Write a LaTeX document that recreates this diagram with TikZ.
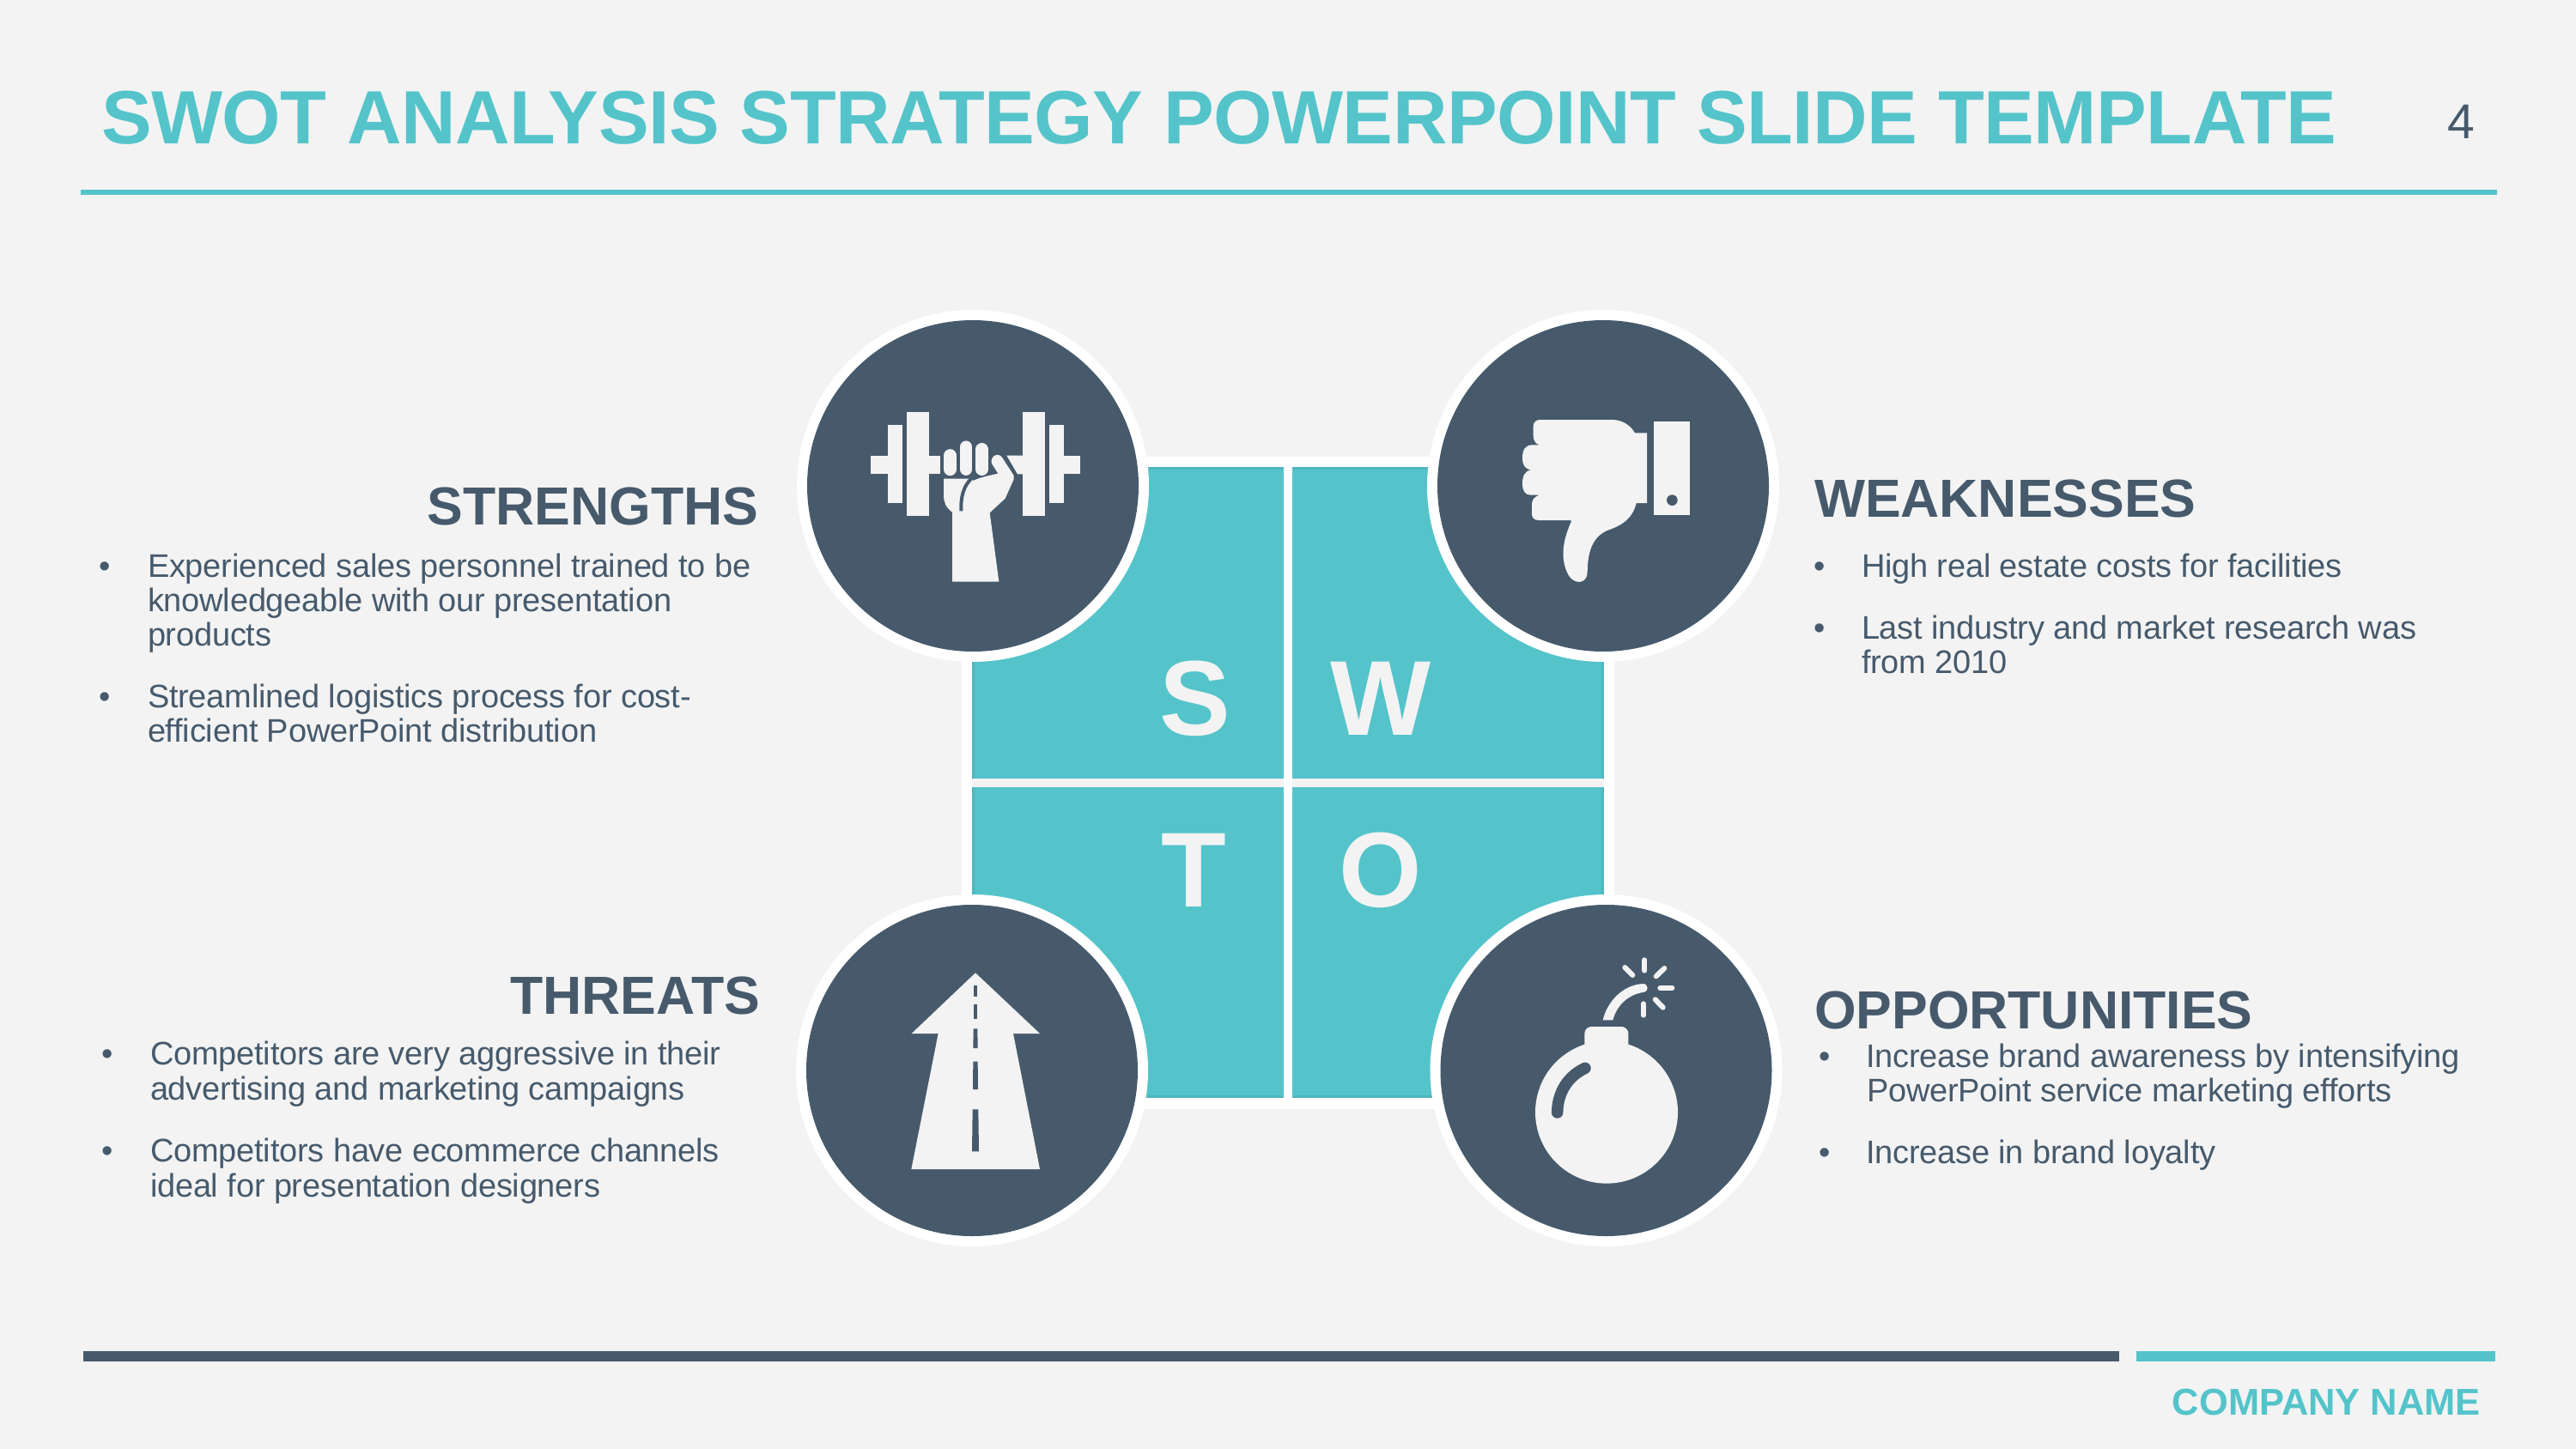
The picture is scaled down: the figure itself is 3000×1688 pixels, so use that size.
\documentclass[tikz,border=0pt]{standalone}
\usepackage{fontspec}
\setmainfont{Liberation Sans}
\newfontfamily\titlefam[LetterSpace=-0.55]{Liberation Sans}
\newfontfamily\bodyfam[LetterSpace=-0.55]{Liberation Sans}
\definecolor{bgc}{HTML}{F3F3F3}
\definecolor{tealc}{HTML}{54C4CA}
\definecolor{tealedge}{HTML}{4EB6BC}
\definecolor{navy}{HTML}{465A6C}
\definecolor{iconc}{HTML}{F3F3F3}
\tikzset{
  txt/.style={inner sep=0pt,outer sep=0pt,anchor=base west},
  bodytext/.style={txt,text=navy,font=\bodyfam\fontsize{38}{40}\selectfont},
  bullettext/.style={inner sep=0pt,outer sep=0pt,anchor=base,text=navy,font=\fontsize{38}{40}\selectfont},
  headtext/.style={inner sep=0pt,outer sep=0pt,text=navy,font=\fontsize{62.5}{66}\bfseries\selectfont},
  lettertext/.style={inner sep=0pt,outer sep=0pt,anchor=base,text=iconc,font=\fontsize{124}{126}\bfseries\selectfont},
  ring/.style={circle,fill=white,inner sep=0pt,minimum size=410pt},
  disc/.style={circle,fill=navy,inner sep=0pt,minimum size=386pt},
  icon/.style={fill=iconc,draw=none},
  iconcut/.style={fill=navy,draw=none},
  spark/.style={draw=iconc,line width=6,line cap=round},
  finger/.style={draw=iconc,line cap=round},
}
\newcommand{\zoomscope}[2]{\begin{scope}[shift={(#1,#2)},x=0.33333pt,y=-0.33333pt]}
\begin{document}
\begin{tikzpicture}[x=1pt,y=-1pt]
\path[use as bounding box,fill=bgc] (0,0) rectangle (3000,1688);
% header
\node[txt,text=tealc,font=\titlefam\fontsize{88}{90}\bfseries\selectfont] (title) at (118,168) {SWOT ANALYSIS STRATEGY POWERPOINT SLIDE TEMPLATE};
\node[bullettext,font=\fontsize{57}{60}\selectfont] (pagenum) at (2866,162) {4};
\fill[tealc] (94,221) rectangle (2908,227);
% footer
\fill[navy] (97,1574) rectangle (2468,1586);
\fill[tealc] (2488,1574) rectangle (2906,1586);
\node[inner sep=0pt,outer sep=0pt,anchor=base east,text=tealc,font=\fontsize{43.5}{46}\bfseries\selectfont] (company) at (2889,1648) {COMPANY NAME};
% central square
\fill[white] (1120,532) rectangle (1880,1292);
\fill[tealc] (1132,544) rectangle (1868,1279);
\draw[tealedge,line width=3] (1133.5,545.5) rectangle (1866.5,1277.5);
\fill[bgc] (1132,907) rectangle (1868,917);
\fill[white] (1495,544) rectangle (1505,1279);
\node[lettertext] (ls) at (1392,856) {S};
\node[lettertext] (lw) at (1608,856) {W};
\node[lettertext] (lt) at (1390,1056) {T};
\node[lettertext] (lo) at (1608,1056) {O};
% circles
\node[ring] (rs) at (1133,566) {};
\node[disc] (ds) at (1133,566) {};
\node[ring] (rw) at (1867,566) {};
\node[disc] (dw) at (1867,566) {};
\node[ring] (rt) at (1132,1247) {};
\node[disc] (dt) at (1132,1247) {};
\node[ring] (ro) at (1870.5,1247) {};
\node[disc] (do) at (1870.5,1247) {};
% barbell + fist
\zoomscope{920}{350}
\fill[icon] (342,435) rectangle (393,708);
\fill[icon] (408,390) rectangle (486,752);
\fill[icon] (282,542) rectangle (342,607);
\fill[icon] (486,542) rectangle (525,607);
\fill[icon] (813,390) rectangle (891,752);
\fill[icon] (906,435) rectangle (956,708);
\fill[icon] (956,542) rectangle (1014,607);
\fill[icon] (757,542) -- (813,542) -- (813,607) -- (795,607) -- cycle;
\draw[finger,line width=15] (559.5,542) -- (559.5,590);
\draw[finger,line width=14.4] (615.5,512) -- (615.5,590);
\draw[finger,line width=14.7] (670,520) -- (670,590);
\fill[icon] (537,623) -- (635,623) -- (640,630)
  .. controls (665,618) and (695,612) .. (727,605)
  -- (706,572) .. controls (695,550) and (725,525) .. (742,550)
  -- (782,612) -- (782,625) -- (752,692) -- (698,742) -- (730,983) -- (567,983) -- (567,740)
  .. controls (545,725) and (537,705) .. (537,680) -- cycle;
\draw[navy,line width=4] (634,622) .. controls (605,650) and (596,690) .. (598,736);
\end{scope}
% thumb down
\zoomscope{1650}{350}
\fill[icon] (829,424) rectangle (954,749);
\fill[iconcut] (892,698) circle[radius=19];
\fill[icon] (804,463) -- (804,708) -- (767,708)
  .. controls (752,770) and (705,790) .. (665,804)
  .. controls (612,828) and (597,880) .. (596,950)
  .. controls (596,992) and (545,998) .. (525,950)
  .. controls (505,905) and (505,850) .. (540,772)
  -- (537,768) -- (425,768)
  .. controls (408,768) and (402,758) .. (402,745)
  -- (402,712) .. controls (402,697) and (412,685) .. (428,680)
  -- (398,680) .. controls (378,680) and (369,665) .. (369,640)
  .. controls (369,612) and (378,596) .. (400,592)
  .. controls (378,590) and (369,575) .. (369,550)
  .. controls (369,520) and (380,505) .. (405,505)
  -- (428,505) .. controls (414,500) and (407,490) .. (407,470)
  -- (407,440) .. controls (407,425) and (417,417) .. (432,417)
  -- (680,417) .. controls (718,417) and (745,435) .. (762,463) -- cycle;
\end{scope}
% road arrow
\zoomscope{920}{1030}
\fill[icon] (648,310) -- (873,522) -- (780,522) -- (873,996) -- (424,996) -- (518,522) -- (425,522) -- cycle;
\fill[iconcut] (643,355) -- (654,355) -- (654,394) -- (643,394) -- cycle;
\fill[iconcut] (642,420) -- (655,420) -- (655,471) -- (642,471) -- cycle;
\fill[iconcut] (641,505) -- (655,505) -- (656,573) -- (640,573) -- cycle;
\fill[iconcut] (640,620) -- (656,620) -- (657,717) -- (639,717) -- cycle;
\fill[iconcut] (638,787) -- (658,787) -- (660,934) -- (636,934) -- cycle;
\end{scope}
% bomb
\zoomscope{1650}{1030}
\fill[icon] (663,797) circle[radius=249];
\fill[icon,rounded corners=8] (586,620) -- (586,498) -- (739,498) -- (739,620) -- cycle;
\draw[navy,line width=13.5,line cap=round] (588,643) .. controls (530,670) and (492,725) .. (491,798);
\fill[icon] (650,475) .. controls (665,410) and (720,352) .. (790,348)
  .. controls (810,348) and (810,375) .. (795,377)
  .. controls (740,385) and (700,420) .. (685,475) -- cycle;
\draw[spark] (796,265) -- (796,302);
\draw[spark] (727,291) -- (754,318);
\draw[spark] (865,294) -- (836,322);
\draw[spark] (850,363) -- (892,363);
\draw[spark] (792,418) -- (792,458);
\draw[spark] (833,403) -- (860,431);
\end{scope}
% STRENGTHS
\node[headtext,anchor=base east] (hs) at (883,611) {STRENGTHS};
\node[bullettext] (bs1) at (122,672) {•};
\node[bodytext] (s1) at (172,672) {Experienced sales personnel trained to be};
\node[bodytext] (s2) at (172,712) {knowledgeable with our presentation};
\node[bodytext] (s3) at (172,752) {products};
\node[bullettext] (bs2) at (122,824) {•};
\node[bodytext] (s4) at (172,824) {Streamlined logistics process for cost-};
\node[bodytext] (s5) at (172,864) {efficient PowerPoint distribution};
% THREATS
\node[headtext,anchor=base east] (ht) at (885,1181) {THREATS};
\node[bullettext] (bt1) at (125.5,1240) {•};
\node[bodytext] (t1) at (175,1240) {Competitors are very aggressive in their};
\node[bodytext] (t2) at (175,1281) {advertising and marketing campaigns};
\node[bullettext] (bt2) at (125.5,1353) {•};
\node[bodytext] (t3) at (175,1353) {Competitors have ecommerce channels};
\node[bodytext] (t4) at (175,1394) {ideal for presentation designers};
% WEAKNESSES
\node[headtext,anchor=base west] (hw) at (2113,602) {WEAKNESSES};
\node[bullettext] (bw1) at (2119.5,672) {•};
\node[bodytext] (w1) at (2168,672) {High real estate costs for facilities};
\node[bullettext] (bw2) at (2119.5,744) {•};
\node[bodytext] (w2) at (2168,744) {Last industry and market research was};
\node[bodytext] (w3) at (2168,784) {from 2010};
% OPPORTUNITIES
\node[headtext,anchor=base west] (ho) at (2113,1198) {OPPORTUNITIES};
\node[bullettext] (bo1) at (2125,1243) {•};
\node[bodytext] (o1) at (2173,1243) {Increase brand awareness by intensifying};
\node[bodytext] (o2) at (2174,1283) {PowerPoint service marketing efforts};
\node[bullettext] (bo2) at (2125,1355) {•};
\node[bodytext] (o3) at (2173,1355) {Increase in brand loyalty};
\end{tikzpicture}
\end{document}
